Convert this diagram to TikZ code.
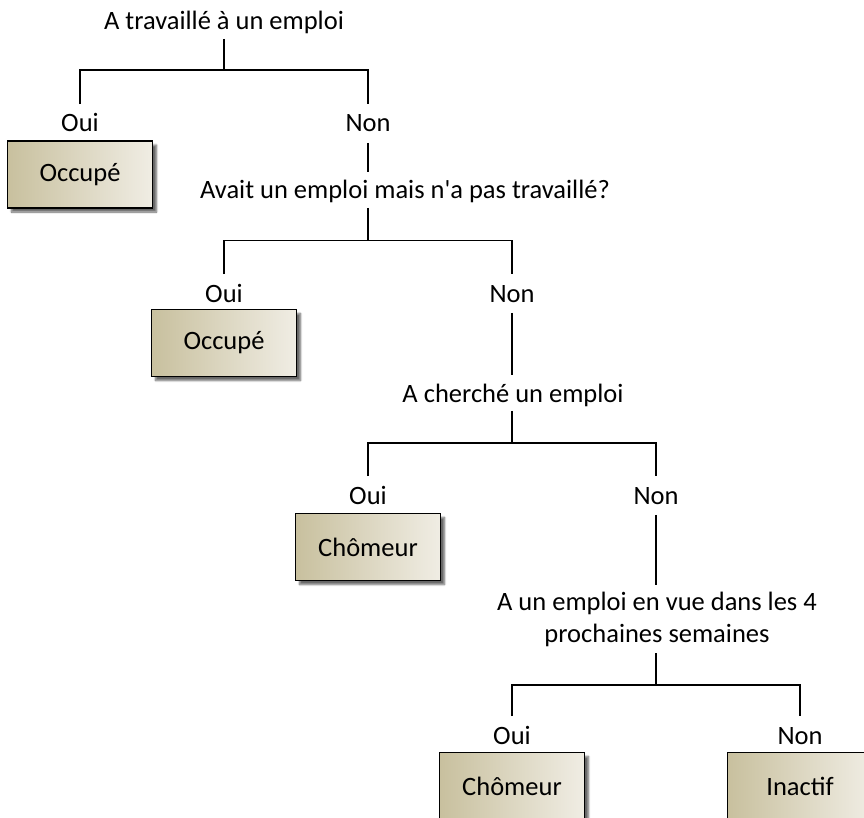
\documentclass[tikz,border=0pt]{standalone}
\usepackage{fontspec}
\setmainfont{Carlito}
\usepackage{tikz}
\usetikzlibrary{shadows,shadows.blur}
\newcommand*{\qfont}{\fontsize{26.5}{32}\selectfont}
\definecolor{boxleft}{RGB}{200,192,158}
\definecolor{boxright}{RGB}{240,237,228}

\begin{document}
\begin{tikzpicture}[x=1pt, y=-1pt, line width=1.6pt,
		question/.style={font=\qfont, inner sep=2pt, text height=24pt, text depth=6pt, anchor=base},
		answer/.style={font=\qfont, inner sep=10pt, text height=17pt, text depth=0pt, anchor=base},
		result/.style={font=\qfont, draw, line width=1.6pt, minimum width=145pt, minimum height=67pt,
			left color=boxleft, right color=boxright,
			blur shadow={shadow xshift=4pt, shadow yshift=-4pt, shadow blur steps=6, shadow opacity=60}}]
		\useasboundingbox (0,0) rectangle (864,818);
		\clip (0,0) rectangle (864,818);
		
		% first question
		\node[question] (q1) at (224,30) {A travaillé à un emploi};
		\coordinate (j1) at (224,70);
		\node[answer] (oui1) at (80,132) {Oui};
		\node[answer] (non1) at (368,132) {Non};
		\node[result] (occ1) at (80,174.5) {Occupé};
		\draw (q1.south) -- (j1);
		\draw (oui1.north) |- (j1) -| (non1.north);
		
		% second question
		\node[question] (q2) at (405,199) {Avait un emploi mais n\textquotesingle a pas travaillé?};
		\coordinate (j2) at (368,240.5);
		\node[answer] (oui2) at (224,302) {Oui};
		\node[answer] (non2) at (512,302) {Non};
		\node[result] (occ2) at (224,343) {Occupé};
		\draw (non1.south) -- (non1.south |- q2.north);
		\draw (j2 |- q2.south) -- (j2);
		\draw (oui2.north) |- (j2) -| (non2.north);
		
		% third question
		\node[question] (q3) at (513,402) {A cherché un emploi};
		\coordinate (j3) at (512,443);
		\node[answer] (oui3) at (368,504) {Oui};
		\node[answer] (non3) at (656,504) {Non};
		\node[result] (cho1) at (368,547) {Chômeur};
		\draw (non2.south) -- (non2.south |- q3.north);
		\draw (j3 |- q3.south) -- (j3);
		\draw (oui3.north) |- (j3) -| (non3.north);
		
		% fourth question
		\node[font=\qfont, align=center, inner xsep=2pt, inner ysep=6pt, anchor=north] (q4) at (657,585)
			{A un emploi en vue dans les 4\\prochaines semaines};
		\coordinate (j4) at (656,685);
		\node[answer] (oui4) at (512,744) {Oui};
		\node[answer] (non4) at (800,744) {Non};
		\node[result] (cho2) at (512,786) {Chômeur};
		\node[result] (ina) at (800,786) {Inactif};
		\draw (non3.south) -- (non3.south |- q4.north);
		\draw (j4 |- q4.south) -- (j4);
		\draw (oui4.north) |- (j4) -| (non4.north);
\end{tikzpicture}
\end{document}
